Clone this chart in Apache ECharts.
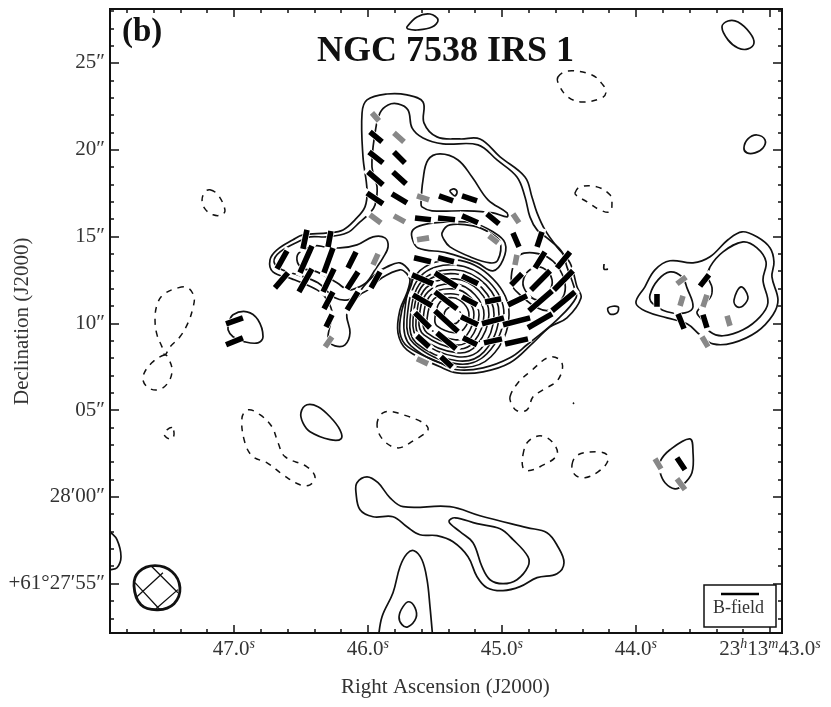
<!DOCTYPE html>
<html lang="en">

<head>
    <meta charset="UTF-8">
    <title>NGC 7538 IRS 1</title>
    <script src="https://cdnjs.cloudflare.com/ajax/libs/echarts/6.0.0/echarts.min.js"></script>
    <style>
        html, body { margin: 0; background: #fff; }
        #main { width: 831px; height: 707px; }
    </style>
</head>

<body>
    <div id="main"></div>
    <script>
        // axes: x = RA seconds past 23h13m, y = Dec seconds past +61d27m
        const xMajor = [47, 46, 45, 44, 43];
        const xLabels = ['{n|47.0}{s|s}', '{n|46.0}{s|s}', '{n|45.0}{s|s}', '{n|44.0}{s|s}', '{n|23}{s|h}{n|13}{s|m}{n|43.0}{s|s}'];
        const xMinor = [47.8, 47.6, 47.4, 47.2, 46.8, 46.6, 46.4, 46.2, 45.8, 45.6, 45.4, 45.2, 44.8, 44.6, 44.4, 44.2, 43.8, 43.6, 43.4, 43.2, 43];
        const yMajor = [55, 60, 65, 70, 75, 80, 85];
        const yLabels = ['+61°27′55″', '28′00″', '05″', '10″', '15″', '20″', '25″'];
        const yMinor = [53, 54, 56, 57, 58, 59, 61, 62, 63, 64, 66, 67, 68, 69, 71, 72, 73, 74, 76, 77, 78, 79, 81, 82, 83, 84, 86, 87, 88];

        // negative levels
        const dashedContours = [
            [[44.582, 84.19], [44.507, 84.54], [44.328, 84.31], [44.246, 83.73], [44.223, 83.33], [44.253, 82.99], [44.403, 82.75], [44.507, 83.04], [44.574, 83.73]],
            [[44.455, 77.51], [44.417, 77.86], [44.291, 77.86], [44.194, 77.40], [44.179, 76.94], [44.194, 76.42], [44.268, 76.53], [44.365, 77.00], [44.440, 77.34]],
            [[47.179, 77.69], [47.119, 77.40], [47.067, 76.53], [47.089, 76.25], [47.156, 76.25], [47.216, 76.59], [47.238, 77.11], [47.216, 77.57]],
            [[47.418, 72.04], [47.343, 72.04], [47.298, 71.52], [47.306, 70.89], [47.343, 70.02], [47.403, 69.22], [47.477, 68.64], [47.515, 68.18], [47.537, 68.64], [47.574, 69.33], [47.589, 70.20], [47.574, 71.06], [47.529, 71.64]],
            [[47.515, 68.18], [47.613, 67.72], [47.679, 66.91], [47.649, 66.34], [47.567, 66.16], [47.492, 66.57], [47.462, 67.32], [47.492, 68.01]],
            [[47.462, 63.98], [47.500, 63.86], [47.522, 63.63], [47.500, 63.40], [47.462, 63.34], [47.447, 63.63]],
            [[46.895, 65.01], [46.806, 64.73], [46.716, 64.03], [46.671, 63.11], [46.619, 62.31], [46.455, 61.73], [46.395, 61.15], [46.432, 60.69], [46.507, 60.69], [46.634, 61.27], [46.753, 61.96], [46.858, 62.31], [46.918, 63.11], [46.940, 64.55]],
            [[45.932, 64.15], [45.888, 64.84], [45.783, 64.84], [45.552, 63.98], [45.686, 63.11], [45.783, 62.82], [45.888, 63.29]],
            [[44.843, 62.42], [44.806, 63.17], [44.716, 63.51], [44.626, 63.17], [44.589, 62.42], [44.716, 61.73], [44.806, 61.50], [44.843, 61.67]],
            [[44.477, 61.85], [44.432, 62.42], [44.283, 62.59], [44.216, 62.42], [44.216, 61.96], [44.283, 61.44], [44.380, 61.10], [44.455, 61.27]],
            [[44.940, 65.76], [44.880, 66.57], [44.791, 67.20], [44.641, 68.06], [44.552, 67.72], [44.582, 66.74], [44.694, 66.16], [44.768, 65.76], [44.813, 65.01], [44.888, 64.96], [44.925, 65.30]]
        ];

        // isolated positive patches
        const outerContours = [
            [[45.709, 87.07], [45.634, 87.65], [45.537, 87.82], [45.477, 87.48], [45.522, 87.07], [45.634, 86.90], [45.701, 86.96]],
            [[43.358, 87.07], [43.313, 87.42], [43.238, 87.36], [43.149, 86.73], [43.119, 86.15], [43.164, 85.81], [43.238, 85.86], [43.313, 86.33]],
            [[43.194, 80.10], [43.164, 80.62], [43.097, 80.85], [43.037, 80.57], [43.052, 80.10], [43.112, 79.82], [43.171, 79.82]],
            [[47.007, 70.49], [46.903, 70.66], [46.821, 70.20], [46.783, 69.22], [46.821, 68.87], [46.918, 68.93], [47.007, 69.22], [47.044, 69.62], [47.037, 70.02]],
            [[46.500, 64.84], [46.455, 65.30], [46.373, 65.19], [46.283, 64.61], [46.209, 63.86], [46.201, 63.34], [46.283, 63.29], [46.432, 63.75], [46.485, 64.26]],
            [[44.208, 70.89], [44.134, 70.95], [44.141, 70.60], [44.194, 70.54]],
            [[43.821, 62.01], [43.746, 62.71], [43.597, 63.34], [43.574, 62.54], [43.582, 61.39], [43.649, 60.69], [43.709, 60.46], [43.783, 60.81], [43.821, 61.44]]
        ];

        const southContours = [
            [[46.082, 60.81], [46.007, 61.15], [45.925, 60.81], [45.835, 59.94], [45.738, 59.43], [45.388, 59.43], [45.164, 58.91], [44.813, 58.22], [44.664, 57.93], [44.582, 57.12], [44.537, 56.20], [44.589, 55.57], [44.738, 55.34], [44.865, 54.82], [44.992, 54.59], [45.112, 54.76], [45.186, 55.39], [45.253, 56.55], [45.365, 57.41], [45.485, 57.76], [45.612, 57.81], [45.709, 58.27], [45.813, 58.85], [45.962, 58.85], [46.059, 59.25], [46.089, 60.23]],
            [[45.395, 58.56], [45.350, 58.79], [45.186, 58.45], [45.014, 58.16], [44.917, 57.53], [44.806, 56.55], [44.806, 55.97], [44.888, 55.22], [44.992, 54.99], [45.089, 55.22], [45.149, 55.97], [45.216, 57.35], [45.313, 57.99]],
            [[45.768, 53.09], [45.738, 53.67], [45.694, 53.95], [45.649, 53.61], [45.641, 53.03], [45.701, 52.51], [45.746, 52.63]]
        ];

        const eastContours = [
            [[44.000, 71.17], [43.933, 72.10], [43.858, 73.08], [43.746, 73.60], [43.574, 73.48], [43.447, 73.83], [43.313, 74.81], [43.208, 75.27], [43.097, 74.98], [42.999, 74.34], [42.970, 73.54], [42.985, 72.67], [42.940, 71.35], [42.977, 70.49], [43.097, 69.51], [43.276, 68.87], [43.425, 68.81], [43.522, 69.33], [43.619, 69.97], [43.768, 70.31], [43.917, 70.66]],
            [[43.895, 71.64], [43.835, 72.50], [43.746, 72.96], [43.656, 72.67], [43.619, 72.04], [43.574, 70.95], [43.634, 70.60], [43.768, 70.66], [43.880, 71.17]],
            [[43.447, 73.25], [43.350, 74.11], [43.201, 74.69], [43.097, 74.34], [43.029, 73.54], [43.052, 72.50], [43.015, 71.18], [43.074, 70.37], [43.201, 69.62], [43.350, 69.28], [43.447, 69.51], [43.507, 70.20], [43.544, 70.66], [43.447, 71.46], [43.432, 72.04], [43.462, 72.67]],
            [[43.268, 71.35], [43.216, 72.10], [43.164, 71.52], [43.201, 71.00], [43.246, 70.95]]
        ];

        // the large connected structure and the loops inside it
        const mainContours = [
            [[46.731, 73.65], [46.679, 74.23], [46.559, 74.81], [46.485, 75.09], [46.298, 75.21], [46.186, 75.38], [46.097, 75.96], [46.022, 76.71], [46.007, 77.69], [46.037, 79.59], [46.044, 82.12], [46.007, 82.87], [45.858, 83.21], [45.709, 83.16], [45.589, 82.75], [45.582, 81.55], [45.485, 80.74], [45.313, 80.62], [45.164, 80.62], [45.014, 79.59], [44.828, 78.43], [44.776, 77.28], [44.738, 76.36], [44.679, 75.38], [44.589, 74.40], [44.492, 73.48], [44.440, 72.10], [44.410, 71.46], [44.515, 70.31], [44.641, 69.79], [44.768, 68.87], [44.940, 67.72], [45.141, 67.20], [45.335, 67.14], [45.462, 67.49], [45.709, 68.47], [45.776, 69.45], [45.761, 70.77], [45.709, 71.75], [45.686, 72.50], [45.709, 72.85], [45.761, 73.08], [45.895, 72.62], [46.000, 71.92], [46.059, 71.64], [46.156, 70.60], [46.134, 69.45], [46.171, 68.76], [46.246, 68.70], [46.298, 69.05], [46.268, 70.60], [46.306, 71.35], [46.358, 71.81], [46.492, 72.33], [46.567, 72.56], [46.709, 72.96]],
            [[46.701, 73.54], [46.656, 74.11], [46.507, 74.75], [46.432, 74.98], [46.306, 74.98], [46.156, 75.21], [46.059, 75.84], [45.985, 76.36], [45.947, 76.82], [45.932, 77.86], [45.970, 79.01], [45.947, 80.97], [45.910, 82.12], [45.850, 82.58], [45.776, 82.64], [45.701, 82.29], [45.671, 81.26], [45.589, 80.68], [45.440, 80.34], [45.179, 80.28], [45.037, 79.41], [44.888, 78.43], [44.828, 77.28], [44.791, 76.13], [44.738, 75.38], [44.664, 74.92], [44.552, 74.11], [44.515, 73.25], [44.462, 72.10], [44.447, 71.47], [44.589, 70.20], [44.813, 68.76], [44.940, 68.01], [45.141, 67.43], [45.335, 67.32], [45.462, 67.72], [45.701, 68.64], [45.761, 69.45], [45.746, 70.77], [45.701, 71.75], [45.671, 72.39], [45.686, 72.96], [45.761, 73.48], [45.858, 73.25], [45.932, 72.90], [46.022, 72.21], [46.082, 71.64], [46.149, 71.35], [46.246, 71.47], [46.373, 72.33], [46.522, 72.79], [46.641, 73.08]],
            [[46.530, 73.65], [46.507, 74.11], [46.395, 74.46], [46.320, 74.40], [46.209, 74.34], [46.082, 74.52], [45.962, 74.98], [45.873, 74.92], [45.850, 74.40], [45.888, 73.77], [45.947, 73.08], [46.007, 72.39], [46.082, 72.04], [46.149, 71.92], [46.231, 72.33], [46.380, 72.96], [46.492, 73.19]],
            [[45.604, 76.94], [45.589, 78.26], [45.552, 79.41], [45.462, 79.76], [45.328, 79.41], [45.223, 78.43], [45.104, 77.11], [44.962, 76.36], [44.962, 76.13], [45.067, 76.36], [45.261, 76.48], [45.522, 76.48], [45.597, 76.71]],
            [[45.388, 77.63], [45.358, 77.74], [45.335, 77.57], [45.350, 77.34], [45.373, 77.46]],
            [[45.671, 74.92], [45.664, 75.38], [45.589, 75.67], [45.410, 75.84], [45.216, 75.78], [45.067, 75.27], [44.977, 74.63], [44.992, 73.65], [45.067, 73.02], [45.186, 73.48], [45.410, 74.06], [45.626, 74.34]],
            [[45.447, 75.21], [45.388, 75.67], [45.216, 75.61], [45.089, 75.21], [45.014, 74.69], [45.030, 73.65], [45.089, 73.48], [45.238, 73.83], [45.388, 74.40], [45.432, 74.81]],
            [[44.918, 73.25], [44.865, 73.94], [44.768, 74.06], [44.664, 73.83], [44.582, 73.25], [44.530, 72.33], [44.544, 71.52], [44.641, 70.77], [44.738, 70.89], [44.865, 71.64], [44.925, 72.21]],
            [[44.843, 72.39], [44.791, 73.08], [44.694, 73.19], [44.626, 72.50], [44.656, 71.75], [44.738, 71.35], [44.813, 71.75]]
        ];

        // concentric rings round the peak
        const peakRings = [
            [[45.350, 73.65], [45.067, 72.56], [44.947, 70.49], [45.082, 68.07], [45.335, 67.49], [45.679, 68.70], [45.731, 70.20], [45.634, 72.85]],
            [[45.350, 73.36], [45.097, 72.39], [44.985, 70.49], [45.112, 68.24], [45.335, 67.66], [45.656, 68.81], [45.709, 70.20], [45.612, 72.67]],
            [[45.350, 73.08], [45.119, 72.21], [45.022, 70.49], [45.134, 68.35], [45.335, 67.84], [45.641, 68.87], [45.686, 70.20], [45.597, 72.44]],
            [[45.350, 72.85], [45.149, 72.04], [45.059, 70.49], [45.156, 68.53], [45.335, 68.07], [45.619, 69.05], [45.664, 70.20], [45.582, 72.27]],
            [[45.350, 72.56], [45.171, 71.87], [45.097, 70.49], [45.186, 68.76], [45.335, 68.30], [45.604, 69.16], [45.641, 70.20], [45.567, 72.04]],
            [[45.350, 72.27], [45.201, 71.64], [45.134, 70.49], [45.209, 68.93], [45.335, 68.53], [45.582, 69.33], [45.619, 70.20], [45.552, 71.81]],
            [[45.358, 71.98], [45.231, 71.47], [45.171, 70.49], [45.238, 69.10], [45.343, 68.76], [45.559, 69.45], [45.589, 70.20], [45.529, 71.64]],
            [[45.358, 71.69], [45.253, 71.29], [45.209, 70.49], [45.261, 69.33], [45.350, 69.05], [45.529, 69.62], [45.559, 70.25], [45.507, 71.41]],
            [[45.365, 71.47], [45.283, 71.12], [45.246, 70.49], [45.283, 69.68], [45.358, 69.45], [45.485, 69.85], [45.500, 70.31], [45.462, 71.23]],
            [[45.373, 70.95], [45.328, 70.77], [45.306, 70.49], [45.328, 70.08], [45.365, 69.97], [45.418, 70.20], [45.432, 70.43], [45.418, 70.77]]
        ];

        // not closed inside the frame
        const openContours = [
            [[47.925, 57.99], [47.873, 57.53], [47.843, 56.55], [47.873, 55.91], [47.925, 55.80]],
            [[45.925, 51.76], [45.895, 53.09], [45.813, 54.47], [45.761, 55.97], [45.709, 56.72], [45.656, 56.89], [45.597, 56.37], [45.559, 55.22], [45.537, 53.67], [45.515, 51.76]],
            [[44.238, 73.42], [44.238, 73.12], [44.208, 73.12]],
            [[44.470, 65.42], [44.462, 65.36]]
        ];

        // polarization segments: ra1, dec1, ra2, dec2
        const vectorsGray = [
            [45.970, 82.12, 45.918, 81.66], [45.806, 80.97, 45.731, 80.45], [45.634, 77.34, 45.544, 77.11], [45.985, 76.25, 45.903, 75.78],
            [45.806, 76.19, 45.724, 75.84], [44.918, 76.30, 44.873, 75.79], [45.634, 74.81, 45.544, 74.92], [45.097, 75.04, 45.030, 74.63],
            [45.925, 74.00, 45.962, 73.36], [46.268, 69.22, 46.320, 68.64], [45.634, 67.95, 45.552, 67.66], [44.888, 73.94, 44.903, 73.36],
            [43.626, 72.67, 43.694, 72.27], [43.649, 71.58, 43.671, 71.00], [43.470, 71.64, 43.500, 70.95], [43.320, 70.43, 43.298, 69.85],
            [43.507, 69.22, 43.462, 68.64], [43.858, 62.19, 43.813, 61.61], [43.694, 61.04, 43.634, 60.41]
        ];
        const vectorsBlack = [
            [45.985, 81.03, 45.895, 80.45], [45.992, 79.87, 45.888, 79.24], [45.806, 79.87, 45.724, 79.24], [46.000, 78.72, 45.888, 77.97],
            [45.813, 78.72, 45.716, 78.03], [46.007, 77.51, 45.888, 76.88], [45.821, 77.46, 45.709, 76.94], [45.470, 77.34, 45.365, 77.05],
            [45.298, 77.34, 45.186, 77.05], [45.649, 76.07, 45.530, 75.96], [45.477, 76.07, 45.350, 75.96], [45.298, 76.19, 45.179, 75.79],
            [45.112, 76.30, 45.022, 75.73], [44.918, 75.21, 44.873, 74.40], [44.701, 75.27, 44.738, 74.40], [46.455, 75.38, 46.485, 74.29],
            [46.276, 75.32, 46.298, 74.40], [46.604, 74.17, 46.679, 73.14], [46.418, 74.46, 46.507, 72.91], [46.261, 74.34, 46.328, 72.91],
            [46.089, 74.11, 46.149, 73.19], [46.597, 72.91, 46.694, 72.04], [46.418, 73.14, 46.515, 71.81], [46.253, 73.14, 46.335, 71.81],
            [46.074, 72.96, 46.156, 71.98], [45.910, 72.96, 45.977, 72.04], [46.261, 71.81, 46.328, 70.83], [46.074, 71.81, 46.156, 70.77],
            [46.268, 70.49, 46.313, 69.79], [47.059, 69.97, 46.933, 70.31], [47.059, 68.76, 46.933, 69.16], [45.656, 73.77, 45.530, 73.54],
            [45.477, 73.77, 45.358, 73.54], [45.671, 72.79, 45.514, 72.27], [45.500, 72.90, 45.335, 72.10], [45.298, 72.73, 45.179, 72.27],
            [45.664, 71.64, 45.522, 71.00], [45.500, 71.81, 45.335, 70.83], [45.298, 71.52, 45.186, 71.06], [45.126, 71.23, 45.007, 71.41],
            [45.649, 70.60, 45.537, 69.74], [45.500, 70.72, 45.328, 69.51], [45.306, 70.37, 45.179, 69.91], [45.149, 69.97, 44.985, 70.31],
            [44.992, 69.91, 44.790, 70.31], [45.634, 69.27, 45.544, 68.64], [45.485, 69.45, 45.343, 68.53], [45.291, 69.16, 45.186, 68.76],
            [45.134, 68.87, 45.000, 69.10], [44.977, 68.81, 44.806, 69.10], [45.455, 68.07, 45.373, 67.49], [44.955, 71.06, 44.813, 71.58],
            [44.932, 72.21, 44.850, 72.85], [44.679, 74.11, 44.753, 73.19], [44.492, 74.11, 44.589, 73.19], [44.641, 73.02, 44.783, 71.92],
            [44.470, 73.02, 44.612, 71.92], [44.626, 71.87, 44.798, 70.72], [44.455, 71.81, 44.626, 70.72], [44.626, 70.54, 44.806, 69.74],
            [43.843, 71.69, 43.843, 70.95], [43.686, 70.54, 43.641, 69.68], [43.455, 72.79, 43.522, 72.14], [43.500, 70.49, 43.470, 69.74],
            [43.694, 62.25, 43.634, 61.56]
        ];

        // synthesized beam
        const beamOutline = [[47.589, 56.03], [47.462, 55.68], [47.403, 54.76], [47.447, 53.84], [47.567, 53.49], [47.694, 53.78], [47.746, 54.87], [47.709, 55.68]];
        const beamHatch = [[47.612, 55.97, 47.418, 54.47], [47.739, 55.05, 47.552, 53.49], [47.530, 55.62, 47.724, 54.24], [47.418, 54.65, 47.582, 53.55]];

        const serif = '"Liberation Serif", serif';
        const textColor = '#333';

        let my_echarts = echarts.init(document.getElementById('main'));

        // flatten [x1,y1,x2,y2] rows to one broken line
        function segments(rows) {
            let out = [];
            rows.forEach(r => out.push([r[0], r[1]], [r[2], r[3]], [null, null]));
            return out;
        }

        // smooth svg path through the points; line series' smoothing flattens closed loops
        function curvePath(p, isClosed) {
            const n = p.length, k = 0.38;
            const at = i => isClosed ? p[(i + n) % n] : p[Math.max(0, Math.min(n - 1, i))];
            const dist = (a, b) => Math.hypot(a[0] - b[0], a[1] - b[1]) || 1;
            const ctrl = i => {
                const a = at(i - 1), b = at(i), c = at(i + 1);
                const l1 = dist(a, b), l2 = dist(b, c), t = l1 + l2;
                const vx = (c[0] - a[0]) * k, vy = (c[1] - a[1]) * k;
                return {
                    inX: b[0] - vx * l1 / t, inY: b[1] - vy * l1 / t,
                    outX: b[0] + vx * l2 / t, outY: b[1] + vy * l2 / t
                };
            };
            let d = 'M' + p[0][0] + ' ' + p[0][1];
            const last = isClosed ? n : n - 1;
            for (let i = 0; i < last; i++) {
                const c1 = ctrl(i), c2 = ctrl(i + 1), e = at(i + 1);
                d += 'C' + c1.outX + ' ' + c1.outY + ' ' + c2.inX + ' ' + c2.inY + ' ' + e[0] + ' ' + e[1];
            }
            return d + (isClosed ? 'Z' : '');
        }

        function contourSeries(pts, width, dash, isClosed) {
            return {
                type: 'custom', coordinateSystem: 'cartesian2d', data: pts, encode: { x: 0, y: 1 }, clip: true, silent: true, z: 2,
                renderItem: function (params, api) {
                    if (params.dataIndex !== 0) return null;
                    return {
                        type: 'path',
                        shape: { pathData: curvePath(pts.map(q => api.coord(q)), isClosed) },
                        style: { fill: 'none', stroke: '#111', lineWidth: width, lineDash: dash || null }
                    };
                }
            };
        }

        function segSeries(rows, color, width, cap, z) {
            return {
                type: 'line', data: segments(rows), showSymbol: false, silent: true, z: z, connectNulls: false,
                lineStyle: { color: color, width: width, cap: cap }
            };
        }

        let series = [];
        dashedContours.forEach(c => series.push(contourSeries(c, 1.5, [6, 6], true)));
        outerContours.concat(southContours, eastContours, mainContours).forEach(c => series.push(contourSeries(c, 1.7, null, true)));
        peakRings.forEach(c => series.push(contourSeries(c, 1.6, null, true)));
        openContours.forEach(c => series.push(contourSeries(c, 1.7, null, false)));
        series.push(contourSeries(beamOutline, 2.8, null, true));
        series.push(segSeries(beamHatch, '#111', 1.3, 'butt', 2));
        series.push(segSeries(vectorsBlack.concat(vectorsGray), '#fff', 7, 'square', 5));
        series.push(segSeries(vectorsGray, '#888', 5.6, 'butt', 6));
        series.push(segSeries(vectorsBlack, '#000', 5.6, 'butt', 7));

        const line = { show: true, onZero: false, lineStyle: { color: '#111', width: 2 } };

        function xAxis(position, ticks, len, labelled) {
            return {
                type: 'value', position: position, inverse: true, min: 42.91, max: 47.925, splitLine: { show: false }, axisLine: line,
                axisTick: { inside: true, length: len, customValues: ticks, lineStyle: { color: '#111', width: 1.5 } },
                axisLabel: labelled ? {
                    customValues: ticks, margin: 4,
                    formatter: v => xLabels[xMajor.indexOf(v)],
                    rich: {
                        n: { fontFamily: serif, fontSize: 21, color: textColor, lineHeight: 24 },
                        s: { fontFamily: serif, fontStyle: 'italic', fontSize: 14, color: textColor, lineHeight: 24, verticalAlign: 'top' }
                    }
                } : { show: false }
            };
        }

        function yAxis(position, ticks, len, labelled) {
            return {
                type: 'value', position: position, min: 52.15, max: 88.11, splitLine: { show: false }, axisLine: line,
                axisTick: { inside: true, length: len, customValues: ticks, lineStyle: { color: '#111', width: 1.5 } },
                axisLabel: labelled ? {
                    customValues: ticks, margin: 5, fontFamily: serif, fontSize: 21, color: textColor,
                    formatter: v => yLabels[yMajor.indexOf(v)]
                } : { show: false }
            };
        }

        let options = {
            animation: false,
            backgroundColor: '#fff',
            grid: { left: 110, top: 9, width: 672, height: 624 },
            xAxis: [xAxis('bottom', xMajor, 8, true), xAxis('bottom', xMinor, 4), xAxis('top', xMajor, 8), xAxis('top', xMinor, 4)],
            yAxis: [yAxis('left', yMajor, 9, true), yAxis('left', yMinor, 4), yAxis('right', yMajor, 9), yAxis('right', yMinor, 4)],
            series: series,
            graphic: [
                { type: 'text', z: 20, left: 122, top: 16, style: { text: '(b)', font: 'bold 33px ' + serif, fill: '#111' } },
                { type: 'text', z: 20, left: 317, top: 34, style: { text: 'NGC 7538 IRS 1', font: 'bold 36px ' + serif, fill: '#111' } },
                { type: 'text', z: 20, left: 341, top: 677, style: { text: 'Right Ascension (J2000)', font: '21px ' + serif, fill: textColor } },
                { type: 'text', z: 20, x: 12, y: 405, rotation: Math.PI / 2, style: { text: 'Declination (J2000)', font: '21px ' + serif, fill: textColor } },
                // legend box
                { type: 'rect', z: 20, shape: { x: 704, y: 585, width: 72, height: 42 }, style: { fill: '#fff', stroke: '#111', lineWidth: 1.5 } },
                { type: 'line', z: 21, shape: { x1: 721, y1: 594, x2: 759, y2: 594 }, style: { stroke: '#000', lineWidth: 2.5 } },
                { type: 'text', z: 21, left: 713, top: 599, style: { text: 'B-field', font: '18px ' + serif, fill: textColor } }
            ]
        };
        my_echarts.setOption(options);
    </script>
</body>

</html>
